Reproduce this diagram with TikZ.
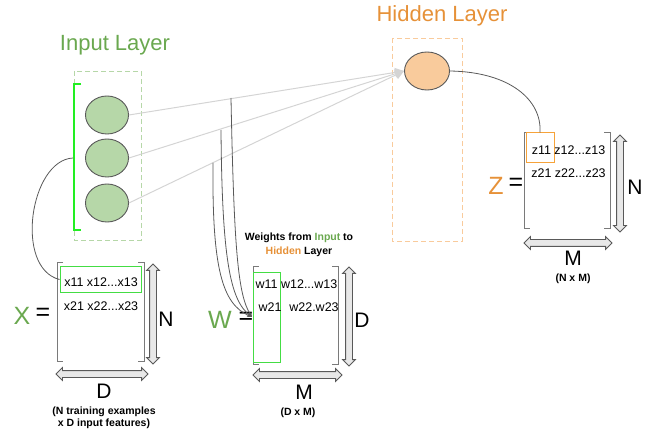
\documentclass[tikz,border=0pt]{standalone}
\usepackage{fontspec}
\setmainfont{Liberation Sans}
\usetikzlibrary{shapes.geometric,shapes.arrows,arrows.meta}
\definecolor{ingreen}{HTML}{6AA84F}
\definecolor{hidorange}{HTML}{E69138}
\definecolor{lgreen}{HTML}{B6D7A8}
\definecolor{lorange}{HTML}{F9CB9C}
\definecolor{bgreen}{HTML}{22EE22}
\definecolor{boxgreen}{HTML}{44DD44}
\definecolor{boxorange}{HTML}{F6A33A}
\definecolor{edgegray}{HTML}{595959}
\definecolor{linegray}{HTML}{D4D4D4}
\definecolor{brgray}{HTML}{7A7A7A}
\tikzset{
  title/.style={font=\fontsize{22}{22}\selectfont, inner sep=0},
  neuron/.style={ellipse, draw=edgegray, line width=0.9pt, minimum width=43, minimum height=38, inner sep=0},
  layerbox/.style={draw, dashed, dash pattern=on 5pt off 3pt, line width=0.8pt},
  entry/.style={font=\fontsize{12.5}{12.5}\selectfont, inner sep=0},
  bigsym/.style={font=\fontsize{25}{25}\selectfont, inner sep=0},
  dimlabel/.style={font=\fontsize{21}{21}\selectfont, inner sep=0},
  note/.style={font=\bfseries\fontsize{10.5}{10.5}\selectfont, inner sep=0},
  bracket/.style={draw=brgray, line width=1pt},
  dblarrow/.style={shape=double arrow, draw=gray!70!black, fill=gray!18, line width=0.8pt,
     inner xsep=0pt, inner ysep=3pt, double arrow head extend=3pt, double arrow tip angle=90},
  feed/.style={draw=linegray, line width=1pt, -{Triangle[length=9,width=9]}},
  link/.style={draw=edgegray, line width=0.8pt},
}
\begin{document}
\begin{tikzpicture}[x=1pt,y=-1pt]
\useasboundingbox (0,0) rectangle (647,443);

% titles
\node[title, text=ingreen] (tin) at (115,45) {Input Layer};
\node[title, text=hidorange] (thid) at (442,16) {Hidden Layer};

% layer boxes
\draw[layerbox, draw=lgreen] (74,71) rectangle (141,240);
\draw[layerbox, draw=lorange] (392,38) rectangle (462,241);

% green bracket
\draw[bgreen, line width=2.5pt] (81,84) -- (74,84) -- (74,230) -- (81,230);
\coordinate (brmid) at (73,158);

% neurons
\node[neuron, fill=lgreen] (i1) at (107,115) {};
\node[neuron, fill=lgreen] (i2) at (107,158) {};
\node[neuron, fill=lgreen] (i3) at (107,203) {};
\node[neuron, fill=lorange, minimum width=45] (h) at (427,71) {};

% feed lines
\draw[feed] (i1.east) -- (h.west);
\draw[feed] (i2.east) -- (h.west);
\draw[feed] (i3.east) -- (h.west);

% ---------- X matrix ----------
\draw[bracket] (63,263) -- (57,263) -- (57,361) -- (63,361);
\draw[bracket] (138,263) -- (144,263) -- (144,361) -- (138,361);
\node[draw=boxgreen, line width=1pt, minimum width=81, minimum height=25, inner sep=0] (xbox) at (100.5,279.5) {};
\node[entry] (x1) at (101,282) {x11 x12...x13};
\node[entry] (x2) at (101,306) {x21 x22...x23};
\node[bigsym, text=ingreen] (xX) at (22,316) {X};
\node[bigsym] (xeq) at (43,314) {=};
\node[dblarrow, rotate=90, minimum height=100] (xva) at (153,314) {};
\node[dimlabel] (xN) at (166,319) {N};
\node[dblarrow, minimum height=92] (xha) at (102,374) {};
\node[dimlabel] (xD) at (104,391) {D};
\node[note] (xn1) at (104,412) {(N training examples};
\node[note] (xn2) at (104,424) {x D input features)};

\draw[link] (brmid) .. controls (30,160) and (14,268) .. (xbox.west);

% ---------- W matrix ----------
\draw[bracket] (259,267) -- (253,267) -- (253,364) -- (259,364);
\draw[bracket] (332,267) -- (338,267) -- (338,364) -- (332,364);
\node[draw=boxgreen, line width=1pt, minimum width=27, minimum height=89, inner sep=0] (wbox) at (266.5,317.5) {};
\node[entry] (w1) at (296.5,284) {w11 w12...w13};
\node[entry] (w21) at (270,307) {w21};
\node[entry] (w22) at (314,307) {w22.w23};
\node[bigsym, text=ingreen] (wW) at (220,320) {W};
\node[bigsym] (weq) at (246,318) {=};
\node[dblarrow, rotate=90, minimum height=99] (wva) at (349,316.5) {};
\node[dimlabel] (wD) at (362,320) {D};
\node[dblarrow, minimum height=89] (wha) at (297.5,375) {};
\node[dimlabel] (wM) at (304,392) {M};
\node[note] (wdim) at (298,413) {(D x M)};
\node[note] (wt1) at (299,238) {Weights from \textcolor{ingreen}{Input} to};
\node[note] (wt2) at (299,252) {\textcolor{hidorange}{Hidden} Layer};

\coordinate (c1) at (231,98);
\coordinate (c2) at (221,130);
\coordinate (c3) at (213,163);
\coordinate (wend) at (252,317);
\draw[link, -{Stealth[length=5,width=4]}] (c1) .. controls (234,250) and (238,295) .. (wend);
\draw[link, -{Stealth[length=5,width=4]}] (c2) .. controls (222,258) and (230,300) .. (wend);
\draw[link, -{Stealth[length=5,width=4]}] (c3) .. controls (212,268) and (222,304) .. (wend);

% ---------- Z matrix ----------
\draw[bracket] (530,133) -- (524,133) -- (524,229) -- (530,229);
\draw[bracket] (604,133) -- (610,133) -- (610,229) -- (604,229);
\node[draw=boxorange, line width=1pt, minimum width=28, minimum height=30, inner sep=0] (zbox) at (540,148) {};
\node[entry] (z1) at (568.5,150) {z11 z12...z13};
\node[entry] (z2) at (568.5,173) {z21 z22...z23};
\node[bigsym, text=hidorange] (zZ) at (496,186) {Z};
\node[bigsym] (zeq) at (516,184) {=};
\node[dblarrow, rotate=90, minimum height=97] (zva) at (620,183.5) {};
\node[dimlabel] (zN) at (635,187) {N};
\node[dblarrow, minimum height=88] (zha) at (568,243) {};
\node[dimlabel] (zM) at (573,258) {M};
\node[note] (zdim) at (573,279) {(N x M)};

\draw[link] (h.east) .. controls (510,72) and (542,100) .. (zbox.north);
\end{tikzpicture}
\end{document}
